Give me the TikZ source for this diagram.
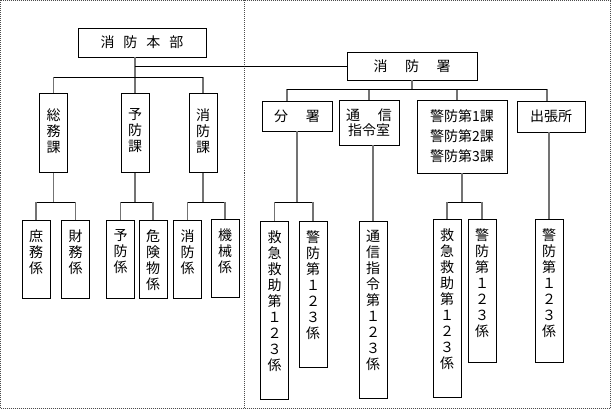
\documentclass[tikz,border=0pt]{standalone}
\usepackage{fontspec}
\setmainfont{Noto Sans CJK JP}
\newcommand{\tbox}[3]{\parbox[t][#1][t]{16pt}{\centering\vspace{#2}#3}}
\begin{document}
\begin{tikzpicture}[x = 1pt, y = -1pt,
    waku/.style = {draw, line width = 0.9pt, inner sep = 0pt, font = \fontsize{14}{16}\selectfont},
    tate/.style = {waku, minimum width = 28pt, anchor = north},
    yoko/.style = {waku, align = center},
    sen/.style = {line width = 0.8pt},
    sen2/.style = {black!55, line width = 1.2pt}]
    \useasboundingbox (0,0) rectangle (611,409);
    \draw[black!70, line width = 0.6pt, dash pattern = on 1pt off 1pt] (0.5,0.5) rectangle (610.5,408.5);
    \draw[black!70, line width = 0.6pt, dash pattern = on 1pt off 1pt] (244.5,0.5) -- (244.5,408.5);
    \coordinate (bus1) at (0,77);
    \coordinate (bus) at (0,89);
    \coordinate (bus2) at (0,202);

    \node[yoko, minimum width = 128pt, minimum height = 29pt] (honbu) at (142,42.5) {消\hspace{9pt}防\hspace{9pt}本\hspace{9pt}部};
    \node[yoko, minimum width = 130pt, minimum height = 28pt] (sho) at (412,66) {消\hspace{17.5pt}防\hspace{17.5pt}署};
    \node[yoko, minimum width = 70pt, minimum height = 30pt] (bunsho) at (297,116) {分\hspace{18pt}署};
    \node[yoko, minimum width = 60pt, minimum height = 45pt, font = \fontsize{14}{14.5}\selectfont] (tsushin) at (369,122.5) {通\hspace{18pt}信\\指令室};
    \node[yoko, minimum width = 90pt, minimum height = 73pt, font = \fontsize{14}{20}\selectfont] (keibo) at (462,136.5) {警防第1課\\警防第2課\\警防第3課};
    \node[yoko, minimum width = 68pt, minimum height = 31pt] (shucho) at (551,116.5) {出張所};

    \node[tate] (somu) at (53.5,93) {\tbox{79pt}{15pt}{総\\務\\課}};
    \node[tate] (yobo) at (135,93) {\tbox{79pt}{15pt}{予\\防\\課}};
    \node[tate] (shobo) at (203,93) {\tbox{79pt}{15pt}{消\\防\\課}};
    \node[tate] (shomu) at (36,220) {\tbox{78pt}{9pt}{庶\\務\\係}};
    \node[tate] (zaimu) at (75.5,220) {\tbox{78pt}{9pt}{財\\務\\係}};
    \node[tate] (yoboka) at (120.5,220) {\tbox{78pt}{9pt}{予\\防\\係}};
    \node[tate] (kiken) at (153,220) {\tbox{78pt}{9pt}{危\\険\\物\\係}};
    \node[tate] (shobok) at (187.5,220) {\tbox{78pt}{9pt}{消\\防\\係}};
    \node[tate] (kikai) at (225,219) {\tbox{78pt}{9pt}{機\\械\\係}};
    \node[tate] (kyukyu1) at (274.5,221) {\tbox{178pt}{9pt}{救\\急\\救\\助\\第\\１\\２\\３\\係}};
    \node[tate] (keibo1) at (313,221) {\tbox{146pt}{9pt}{警\\防\\第\\１\\２\\３\\係}};
    \node[tate] (tsushinK) at (373,221) {\tbox{177pt}{9pt}{通\\信\\指\\令\\第\\１\\２\\３\\係}};
    \node[tate] (kyukyu2) at (447,219) {\tbox{178pt}{9pt}{救\\急\\救\\助\\第\\１\\２\\３\\係}};
    \node[tate] (keibo2) at (482,219) {\tbox{143pt}{9pt}{警\\防\\第\\１\\２\\３\\係}};
    \node[tate] (keibo3) at (549,219) {\tbox{143pt}{9pt}{警\\防\\第\\１\\２\\３\\係}};

    \draw[sen2] (honbu.south -| yobo.north) -- (yobo.north);
    \draw[sen] (yobo.north |- sho.west) -- (sho.west);
    \draw[sen2] (somu.north) -- (somu.north |- bus1);
    \draw[sen2] (shobo.north) -- (shobo.north |- bus1);
    \draw[sen] (somu.north |- bus1) -- (shobo.north |- bus1);

    \coordinate (d-bunsho) at ([xshift = -10pt]bunsho.north);
    \coordinate (d-tsushin) at (tsushin.north);
    \coordinate (d-keibo) at ([xshift = -5pt]keibo.north);
    \coordinate (d-shucho) at ([xshift = -4pt]shucho.north);
    \draw[sen2] (sho.south) -- (sho.south |- bus);
    \foreach \k in {bunsho, tsushin, keibo, shucho}
        \draw[sen2] (d-\k) -- (d-\k |- bus);
    \draw[sen] (d-bunsho |- bus) -- (d-shucho |- bus);

    \foreach \p/\a/\b in {somu/shomu/zaimu, yobo/yoboka/kiken, shobo/shobok/kikai, bunsho/kyukyu1/keibo1, keibo/kyukyu2/keibo2} {
        \draw[sen2] (\p.south) -- (\p.south |- bus2);
        \draw[sen] (\a.north |- bus2) -- (\b.north |- bus2);
        \draw[sen2] (\a.north) -- (\a.north |- bus2);
        \draw[sen2] (\b.north) -- (\b.north |- bus2);
    }
    \draw[sen2] (tsushin.south -| tsushinK.north) -- (tsushinK.north);
    \draw[sen2] (shucho.south -| keibo3.north) -- (keibo3.north);
\end{tikzpicture}
\end{document}
